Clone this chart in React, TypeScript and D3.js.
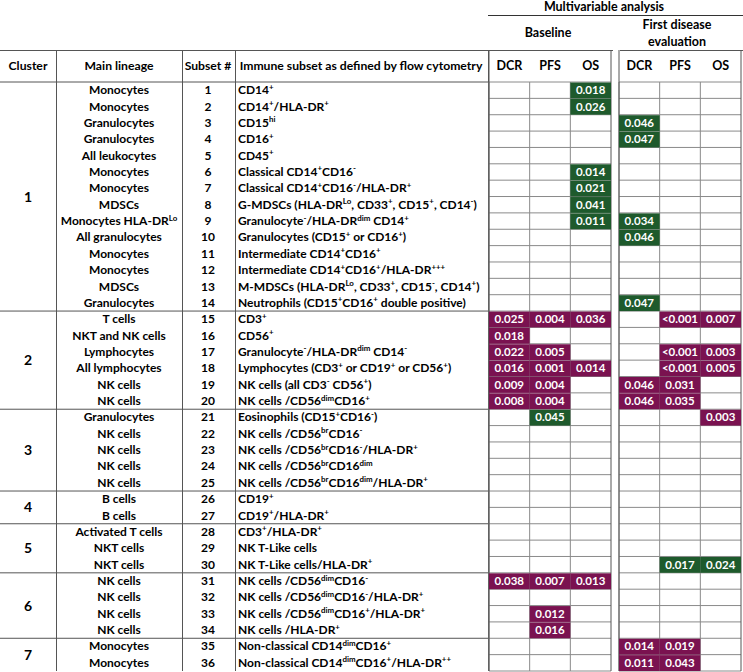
import React from 'react'
import * as d3 from 'd3'

// rows of the table (subset # 1..36)
const subsets = [1, 2, 3, 4, 5, 6, 7, 8, 9, 10, 11, 12, 13, 14, 15, 16, 17, 18, 19, 20, 21, 22, 23, 24, 25, 26, 27, 28, 29, 30, 31, 32, 33, 34, 35, 36]
const clusters = [1, 1, 1, 1, 1, 1, 1, 1, 1, 1, 1, 1, 1, 1, 2, 2, 2, 2, 2, 2, 3, 3, 3, 3, 3, 4, 4, 5, 5, 5, 6, 6, 6, 6, 7, 7]
const lineages = [
  'Monocytes', 'Monocytes', 'Granulocytes', 'Granulocytes', 'All leukocytes', 'Monocytes', 'Monocytes', 'MDSCs',
  'Monocytes HLA-DR^{Lo}', 'All granulocytes', 'Monocytes', 'Monocytes', 'MDSCs', 'Granulocytes',
  'T cells', 'NKT and NK cells', 'Lymphocytes', 'All lymphocytes', 'NK cells', 'NK cells',
  'Granulocytes', 'NK cells', 'NK cells', 'NK cells', 'NK cells',
  'B cells', 'B cells',
  'Activated T cells', 'NKT cells', 'NKT cells',
  'NK cells', 'NK cells', 'NK cells', 'NK cells',
  'Monocytes', 'Monocytes',
]
const immuneSubsets = [
  'CD14^{+}',
  'CD14^{+}/HLA-DR^{+}',
  'CD15^{hi}',
  'CD16^{+}',
  'CD45^{+}',
  'Classical CD14^{+}CD16^{-}',
  'Classical CD14^{+}CD16^{-}/HLA-DR^{+}',
  'G-MDSCs (HLA-DR^{Lo}, CD33^{+}, CD15^{+}, CD14^{-})',
  'Granulocyte^{-}/HLA-DR^{dim} CD14^{+}',
  'Granulocytes (CD15^{+} or CD16^{+})',
  'Intermediate CD14^{+}CD16^{+}',
  'Intermediate CD14^{+}CD16^{+}/HLA-DR^{+++}',
  'M-MDSCs (HLA-DR^{Lo}, CD33^{+}, CD15^{-}, CD14^{+})',
  'Neutrophils (CD15^{+}CD16^{+} double positive)',
  'CD3^{+}',
  'CD56^{+}',
  'Granulocyte^{-}/HLA-DR^{dim} CD14^{-}',
  'Lymphocytes (CD3^{+} or CD19^{+} or CD56^{+})',
  'NK cells (all CD3^{-} CD56^{+})',
  'NK cells /CD56^{dim}CD16^{+}',
  'Eosinophils (CD15^{+}CD16^{-})',
  'NK cells /CD56^{br}CD16^{-}',
  'NK cells /CD56^{br}CD16^{-}/HLA-DR^{+}',
  'NK cells /CD56^{br}CD16^{dim}',
  'NK cells /CD56^{br}CD16^{dim}/HLA-DR^{+}',
  'CD19^{+}',
  'CD19^{+}/HLA-DR^{+}',
  'CD3^{+}/HLA-DR^{+}',
  'NK T-Like cells',
  'NK T-Like cells/HLA-DR^{+}',
  'NK cells /CD56^{dim}CD16^{-}',
  'NK cells /CD56^{dim}CD16^{-}/HLA-DR^{+}',
  'NK cells /CD56^{dim}CD16^{+}/HLA-DR^{+}',
  'NK cells /HLA-DR^{+}',
  'Non-classical CD14^{dim}CD16^{+}',
  'Non-classical CD14^{dim}CD16^{+}/HLA-DR^{++}',
]

const endpoints = ['DCR', 'PFS', 'OS']

// significant p-values: [subset #, endpoint, p, g = green / p = purple]
const baselineHits: [number, string, string, string][] = [
  [1, 'OS', '0.018', 'g'], [2, 'OS', '0.026', 'g'], [6, 'OS', '0.014', 'g'], [7, 'OS', '0.021', 'g'],
  [8, 'OS', '0.041', 'g'], [9, 'OS', '0.011', 'g'],
  [15, 'DCR', '0.025', 'p'], [15, 'PFS', '0.004', 'p'], [15, 'OS', '0.036', 'p'],
  [16, 'DCR', '0.018', 'p'],
  [17, 'DCR', '0.022', 'p'], [17, 'PFS', '0.005', 'p'],
  [18, 'DCR', '0.016', 'p'], [18, 'PFS', '0.001', 'p'], [18, 'OS', '0.014', 'p'],
  [19, 'DCR', '0.009', 'p'], [19, 'PFS', '0.004', 'p'],
  [20, 'DCR', '0.008', 'p'], [20, 'PFS', '0.004', 'p'],
  [21, 'PFS', '0.045', 'g'],
  [31, 'DCR', '0.038', 'p'], [31, 'PFS', '0.007', 'p'], [31, 'OS', '0.013', 'p'],
  [33, 'PFS', '0.012', 'p'], [34, 'PFS', '0.016', 'p'],
]
const firstEvalHits: [number, string, string, string][] = [
  [3, 'DCR', '0.046', 'g'], [4, 'DCR', '0.047', 'g'], [9, 'DCR', '0.034', 'g'], [10, 'DCR', '0.046', 'g'],
  [14, 'DCR', '0.047', 'g'],
  [15, 'PFS', '<0.001', 'p'], [15, 'OS', '0.007', 'p'],
  [17, 'PFS', '<0.001', 'p'], [17, 'OS', '0.003', 'p'],
  [18, 'PFS', '<0.001', 'p'], [18, 'OS', '0.005', 'p'],
  [19, 'DCR', '0.046', 'p'], [19, 'PFS', '0.031', 'p'],
  [20, 'DCR', '0.046', 'p'], [20, 'PFS', '0.035', 'p'],
  [21, 'OS', '0.003', 'p'],
  [30, 'PFS', '0.017', 'g'], [30, 'OS', '0.024', 'g'],
  [35, 'DCR', '0.014', 'p'], [35, 'PFS', '0.019', 'p'],
  [36, 'DCR', '0.011', 'p'], [36, 'PFS', '0.043', 'p'],
]

const COLORS: Record<string, string> = { g: '#1e5a2c', p: '#7a1250' }
const FONT = 'Lato, sans-serif'

// text with ^{...} superscripts
const RichText = ({ text, x, y, anchor = 'start', size = 12 }: any) => {
  const parts = text.split(/(\^\{[^}]*\})/).filter((s: string) => s !== '')
  let raised = false
  return (
    <text x={x} y={y} textAnchor={anchor} fontFamily={FONT} fontWeight={700} fontSize={size} fill="#000">
      {parts.map((p: string, i: number) => {
        if (p.startsWith('^{')) {
          const el = (
            <tspan key={i} dy={raised ? 0 : -4.5} fontSize={size * 0.66}>
              {p.slice(2, -1)}
            </tspan>
          )
          raised = true
          return el
        }
        const el = (
          <tspan key={i} dy={raised ? 4.5 : 0}>
            {p}
          </tspan>
        )
        raised = false
        return el
      })}
    </text>
  )
}

const App = () => {
  const width = 743
  const height = 672
  const y = d3.scaleLinear([0, subsets.length], [82, 671])
  const rowH = y(1) - y(0)
  const xBase = d3.scaleBand(endpoints, [489, 611])
  const xFirst = d3.scaleBand(endpoints, [619, 741])
  const colLines = [56, 182, 235, 488]
  const headerTop = 50

  const clusterIds = Array.from(new Set(clusters))
  const clusterSpan = clusterIds.map((c) => {
    const idx = clusters.map((v, i) => (v === c ? i : -1)).filter((i) => i >= 0)
    return { c, start: idx[0], end: idx[idx.length - 1] + 1 }
  })

  const grid = (xs: d3.ScaleBand<string>) => {
    const x0 = xs.range()[0]
    const x1 = xs.range()[1]
    return (
      <g stroke="#8a8a8a" strokeWidth={1}>
        {d3.range(subsets.length + 1).map((i) => (
          <line key={'h' + i} x1={x0} x2={x1} y1={y(i)} y2={y(i)} />
        ))}
        {endpoints.map((e) => (
          <line key={'v' + e} x1={xs(e)} x2={xs(e)} y1={y(0)} y2={y(subsets.length)} />
        ))}
        <line x1={x1} x2={x1} y1={headerTop} y2={y(subsets.length)} stroke="#555" />
        <line x1={x0} x2={x0} y1={headerTop} y2={y(subsets.length)} stroke="#555" />
      </g>
    )
  }

  const hits = (list: [number, string, string, string][], xs: d3.ScaleBand<string>, k: string) =>
    list.map(([s, e, p, c]) => (
      <g key={k + s + e}>
        <rect x={xs(e)!} y={y(s - 1) + 0.5} width={xs.bandwidth()} height={rowH - 0.5} fill={COLORS[c]} />
        <text
          x={xs(e)! + xs.bandwidth() / 2}
          y={y(s - 1) + rowH / 2 + 4}
          textAnchor="middle"
          fontFamily={FONT}
          fontWeight={700}
          fontSize={11.5}
          fill="#fff"
        >
          {p}
        </text>
      </g>
    ))

  return (
    <svg width={width} height={height} style={{ display: 'block', position: 'absolute', left: 0, top: 0 }}>
      <rect width={width} height={height} fill="#fff" />

      {/* header */}
      <text x={604} y={11} textAnchor="middle" fontFamily={FONT} fontWeight={700} fontSize={12.5}>
        Multivariable analysis
      </text>
      <line x1={488} x2={743} y1={15.5} y2={15.5} stroke="#333" />
      <text x={548} y={37} textAnchor="middle" fontFamily={FONT} fontWeight={700} fontSize={12.5}>
        Baseline
      </text>
      <text x={677} y={29} textAnchor="middle" fontFamily={FONT} fontWeight={700} fontSize={12.5}>
        First disease
      </text>
      <text x={677} y={46} textAnchor="middle" fontFamily={FONT} fontWeight={700} fontSize={12.5}>
        evaluation
      </text>
      <line x1={0} x2={613} y1={headerTop + 0.5} y2={headerTop + 0.5} stroke="#555" />
      <line x1={620} x2={743} y1={headerTop + 0.5} y2={headerTop + 0.5} stroke="#555" />

      {[
        ['Cluster', 28],
        ['Main lineage', 119],
        ['Subset #', 208],
        ['Immune subset as defined by flow cytometry', 361],
      ].map(([t, cx]) => (
        <text key={t} x={cx} y={70} textAnchor="middle" fontFamily={FONT} fontWeight={700} fontSize={12.2}>
          {t}
        </text>
      ))}
      {endpoints.map((e) => (
        <g key={e}>
          <text x={xBase(e)! + xBase.bandwidth() / 2} y={70} textAnchor="middle" fontFamily={FONT} fontWeight={700} fontSize={12.5}>
            {e}
          </text>
          <text x={xFirst(e)! + xFirst.bandwidth() / 2} y={70} textAnchor="middle" fontFamily={FONT} fontWeight={700} fontSize={12.5}>
            {e}
          </text>
        </g>
      ))}

      {/* left part structure */}
      <g stroke="#555" strokeWidth={1}>
        {colLines.map((cx) => (
          <line key={cx} x1={cx + 0.5} x2={cx + 0.5} y1={headerTop} y2={y(subsets.length)} />
        ))}
        <line x1={0} x2={488} y1={y(0)} y2={y(0)} />
        {clusterSpan.slice(1).map((c) => (
          <line key={c.c} x1={0} x2={488} y1={y(c.start)} y2={y(c.start)} />
        ))}
      </g>

      {clusterSpan.map((c) => (
        <text
          key={c.c}
          x={28}
          y={(y(c.start) + y(c.end)) / 2 + 5}
          textAnchor="middle"
          fontFamily={FONT}
          fontWeight={700}
          fontSize={14}
        >
          {c.c}
        </text>
      ))}

      {subsets.map((s, i) => (
        <g key={s}>
          <RichText text={lineages[i]} x={119} y={y(i) + rowH / 2 + 4} anchor="middle" />
          <text x={208} y={y(i) + rowH / 2 + 4} textAnchor="middle" fontFamily={FONT} fontWeight={700} fontSize={12}>
            {s}
          </text>
          <RichText text={immuneSubsets[i]} x={238} y={y(i) + rowH / 2 + 4} />
        </g>
      ))}

      {grid(xBase)}
      {grid(xFirst)}
      {hits(baselineHits, xBase, 'b')}
      {hits(firstEvalHits, xFirst, 'f')}
    </svg>
  )
}

export default App
